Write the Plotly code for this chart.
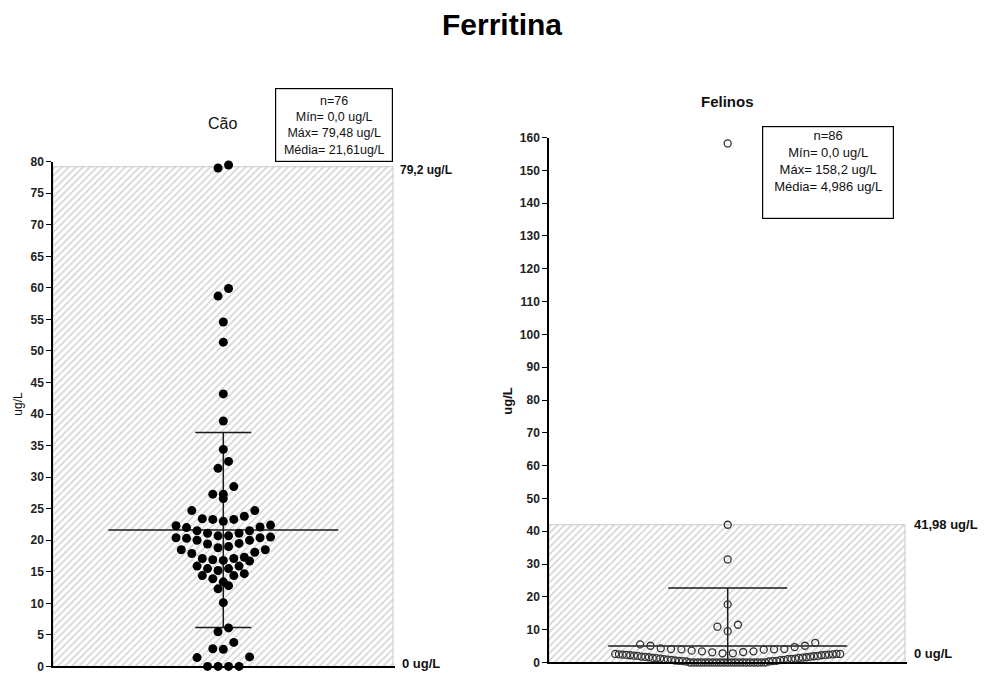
import plotly.graph_objects as go

# ---------------- data ----------------
cao_values = [79.48, 79.0, 59.9, 58.7, 54.6, 51.4, 43.2, 38.9, 34.4, 32.5, 31.4,
              28.5, 27.3, 27.3, 26.6, 24.7, 24.7, 23.8, 23.4, 23.3, 23.0, 23.3,
              22.4, 22.1, 22.0, 22.3, 21.5, 21.5, 21.1, 21.1,
              20.7, 20.4, 20.3, 20.4, 20.5, 20.7, 20.0, 20.0,
              19.5, 19.4, 19.0, 18.8, 18.5, 18.5, 17.9, 18.1,
              17.1, 17.3, 16.9, 16.7, 16.8, 17.1,
              15.9, 15.9, 15.5, 15.5, 15.2,
              14.4, 14.4, 14.7, 13.9, 13.4,
              12.3, 12.8, 10.1,
              6.1, 5.5, 3.8, 2.8, 2.7, 1.4, 1.5, 0.0, 0.0, 0.0, 0.0]

felinos_values = [158.2, 41.98, 31.4, 17.7, 11.5, 10.9, 9.55,
                  6.0, 5.1, 4.7, 4.1, 4.0, 3.9, 3.4, 3.1, 2.8, 2.8, 3.2, 3.4, 3.6,
                  4.0, 4.1, 4.3, 5.1, 5.5,
                  0.3, 0.3, 0.4, 0.4, 0.5, 0.5, 0.6, 0.7, 0.8, 0.8, 0.9, 1.0, 1.0,
                  1.1, 1.2, 1.2, 1.3, 1.4, 1.4, 1.5, 1.6, 1.6, 1.7, 1.8, 1.8, 1.9,
                  2.0, 2.0, 2.1, 2.2, 2.2, 2.3, 2.3, 2.4, 2.4, 2.5, 2.5, 2.6, 2.6, 2.6,
                  0.0, 0.0, 0.0, 0.0, 0.0, 0.0, 0.0, 0.0, 0.0, 0.0, 0.0,
                  0.0, 0.0, 0.0, 0.0, 0.0, 0.0, 0.0, 0.0, 0.0, 0.0]

cao_stats = {"mean": 21.61, "sd": 15.45}
felinos_stats = {"mean": 4.986, "sd": 17.7}

cao_ref_range = [0.0, 79.2]
felinos_ref_range = [0.0, 41.98]

cao_box_text = ["n=76", "Mín= 0,0 ug/L", "Máx= 79,48 ug/L", "Média= 21,61ug/L"]
felinos_box_text = ["n=86", "Mín= 0,0 ug/L", "Máx= 158,2 ug/L", "Média= 4,986 ug/L"]

cao_ticks = [0, 5, 10, 15, 20, 25, 30, 35, 40, 45, 50, 55, 60, 65, 70, 75, 80]
felinos_ticks = [0, 10, 20, 30, 40, 50, 60, 70, 80, 90, 100, 110, 120, 130, 140, 150, 160]

# ---------------- geometry / style ----------------
W, H = 988, 678
FONT = "Liberation Sans, Arial, sans-serif"

L_X0, L_X1 = 53, 395
L_Y0, L_Y1 = 673.3, 158.0         # pixel rows of y=0 and y=80
R_X0, R_X1 = 549, 907
R_Y0, R_Y1 = 669.3, 133.3         # pixel rows of y=0 and y=160

L_W = L_X1 - L_X0
R_W = R_X1 - R_X0
L_CENTER = 170.3
R_CENTER = 178.7
L_PPU = (L_Y0 - L_Y1) / 80.0
R_PPU = (R_Y0 - R_Y1) / 160.0
ROW_PX = 11.0


def swarm_offsets(values, row_h, step, max_w):
    """Prism-like scatter-dot layout: group points into horizontal rows,
    lowest values in the middle, spreading outwards alternately."""
    order = sorted(range(len(values)), key=lambda i: -values[i])
    rows, cur, top = [], [], None
    for i in order:
        if top is None or values[i] >= top - row_h:
            if top is None:
                top = values[i]
            cur.append(i)
        else:
            rows.append(cur)
            cur, top = [i], values[i]
    rows.append(cur)
    off = [0.0] * len(values)
    for row in rows:
        row = sorted(row, key=lambda i: values[i])
        n = len(row)
        sp = step if n < 2 else min(step, max_w / (n - 1))
        for k, i in enumerate(row):
            if n % 2:
                slot = 0 if k == 0 else ((k + 1) // 2) * (-1 if k % 2 else 1)
            else:
                slot = (k // 2 + 0.5) * (-1 if k % 2 == 0 else 1)
            off[i] = slot * sp
    return off


cao_off = swarm_offsets(cao_values, ROW_PX / L_PPU, 10.5, 230)
fel_off = swarm_offsets(felinos_values, ROW_PX / R_PPU, 10.3, 225)

fig = go.Figure()

# reference-range hatched areas
for xa, ya, rng, width in [("x", "y", cao_ref_range, L_W - 2), ("x2", "y2", felinos_ref_range, R_W - 2)]:
    fig.add_trace(go.Bar(
        x=[width / 2.0], y=[rng[1] - rng[0]], base=[rng[0]], width=[width],
        xaxis=xa, yaxis=ya, hoverinfo="skip",
        marker=dict(color="white",
                    pattern=dict(shape="/", fgcolor="#aaaaaa", bgcolor="white",
                                 size=5, solidity=0.33),
                    line=dict(color="#c8c8c8", width=1)),
    ))


def mean_sd_traces(stats, center, half_mean, half_cap, xa, ya):
    m, s = stats["mean"], stats["sd"]
    xs = [center - half_mean, center + half_mean, None,
          center, center, None,
          center - half_cap, center + half_cap, None,
          center - half_cap, center + half_cap]
    ys = [m, m, None,
          m - s, m + s, None,
          m + s, m + s, None,
          m - s, m - s]
    return go.Scatter(x=xs, y=ys, mode="lines", xaxis=xa, yaxis=ya,
                      line=dict(color="#1a1a1a", width=1.5), hoverinfo="skip",
                      cliponaxis=True)


fig.add_trace(mean_sd_traces(cao_stats, L_CENTER, 115, 28, "x", "y"))
fig.add_trace(mean_sd_traces(felinos_stats, R_CENTER, 119.5, 59.5, "x2", "y2"))

fig.add_trace(go.Scatter(
    x=[L_CENTER + o for o in cao_off], y=cao_values, mode="markers",
    xaxis="x", yaxis="y", cliponaxis=False,
    marker=dict(size=9, color="black", line=dict(width=0)),
))
fig.add_trace(go.Scatter(
    x=[R_CENTER + o for o in fel_off], y=felinos_values, mode="markers",
    xaxis="x2", yaxis="y2", cliponaxis=False,
    marker=dict(size=7, symbol="circle-open", color="#333333", line=dict(width=1.3)),
))

axis_common = dict(showline=True, linecolor="black", linewidth=1.5,
                   showgrid=False, zeroline=False, fixedrange=True)
tick_font = dict(family=FONT, size=12, weight="bold", color="#222")

fig.update_layout(
    width=W, height=H, margin=dict(l=0, r=0, t=0, b=0),
    plot_bgcolor="white", paper_bgcolor="white", showlegend=False,
    barmode="overlay",
    font=dict(family=FONT, color="black"),
    title=dict(text="Ferritina", x=502 / W, xanchor="center",
               y=1 - 24 / H, yanchor="middle",
               font=dict(family=FONT, size=30, weight="bold", color="black")),
    xaxis=dict(domain=[L_X0 / W, L_X1 / W], range=[0, L_W], anchor="y",
               showticklabels=False, ticks="", **axis_common),
    yaxis=dict(domain=[(H - L_Y0) / H, (H - L_Y1) / H], range=[0, 80], anchor="x",
               tickvals=cao_ticks, ticktext=[str(t) for t in cao_ticks],
               ticks="outside", ticklen=5, tickwidth=1.3, tickcolor="black",
               tickfont=tick_font, **axis_common),
    xaxis2=dict(domain=[R_X0 / W, R_X1 / W], range=[0, R_W], anchor="y2",
                showticklabels=False, ticks="", **axis_common),
    yaxis2=dict(domain=[(H - R_Y0) / H, (H - R_Y1) / H], range=[0, 160], anchor="x2",
                tickvals=felinos_ticks, ticktext=[str(t) for t in felinos_ticks],
                ticks="outside", ticklen=5, tickwidth=1.3, tickcolor="black",
                tickfont=tick_font, **axis_common),
)

C = dict(xanchor="center", yanchor="middle", showarrow=False, xref="paper", yref="paper")
ann = []
# panel titles
ann.append(dict(text="Cão", x=222 / W, y=1 - 119 / H,
                font=dict(family=FONT, size=16, color="#111"), **C))
ann.append(dict(text="<b>Felinos</b>", x=727 / W, y=1 - 97 / H,
                font=dict(family=FONT, size=15, color="#111"), **C))
# y-axis titles
ann.append(dict(text="ug/L", x=18 / W, y=1 - 405 / H, textangle=-90,
                font=dict(family=FONT, size=12, color="#111"), **C))
ann.append(dict(text="<b>ug/L</b>", x=508 / W, y=1 - 402 / H, textangle=-90,
                font=dict(family=FONT, size=13, color="#111"), **C))
# reference-range labels
ann.append(dict(text="<b>79,2 ug/L</b>", x=(L_X1 + 3) / W, y=cao_ref_range[1], xref="paper", yref="y",
                xanchor="left", yanchor="middle", yshift=-3, showarrow=False,
                font=dict(family=FONT, size=12, color="#111")))
ann.append(dict(text="<b>0 ug/L</b>", x=(L_X1 + 5) / W, y=cao_ref_range[0], xref="paper", yref="y",
                xanchor="left", yanchor="middle", yshift=3, showarrow=False,
                font=dict(family=FONT, size=13, color="#111")))
ann.append(dict(text="<b>41,98 ug/L</b>", x=(R_X1 + 5) / W, y=felinos_ref_range[1], xref="paper", yref="y2",
                xanchor="left", yanchor="middle", yshift=0, showarrow=False,
                font=dict(family=FONT, size=13, color="#111")))
ann.append(dict(text="<b>0 ug/L</b>", x=(R_X1 + 5) / W, y=felinos_ref_range[0], xref="paper", yref="y2",
                xanchor="left", yanchor="middle", yshift=9, showarrow=False,
                font=dict(family=FONT, size=13, color="#111")))
# statistics boxes
ann.append(dict(text="<br>".join(cao_box_text), x=334 / W, y=1 - 120 / H,
                align="center", width=114, height=70,
                bordercolor="black", borderwidth=1.2, borderpad=1, bgcolor="white",
                font=dict(family=FONT, size=12.5, color="#111"), **C))
ann.append(dict(text="<br>".join(felinos_box_text), x=828 / W, y=1 - 169 / H,
                align="center", valign="top", width=128, height=89,
                bordercolor="black", borderwidth=1.2, borderpad=1, bgcolor="white",
                font=dict(family=FONT, size=13, color="#111"), **C))
fig.update_layout(annotations=ann)

fig.write_html("out.html", config={"displayModeBar": False},
               post_script="document.body.style.margin='0';document.body.style.overflow='hidden';")
